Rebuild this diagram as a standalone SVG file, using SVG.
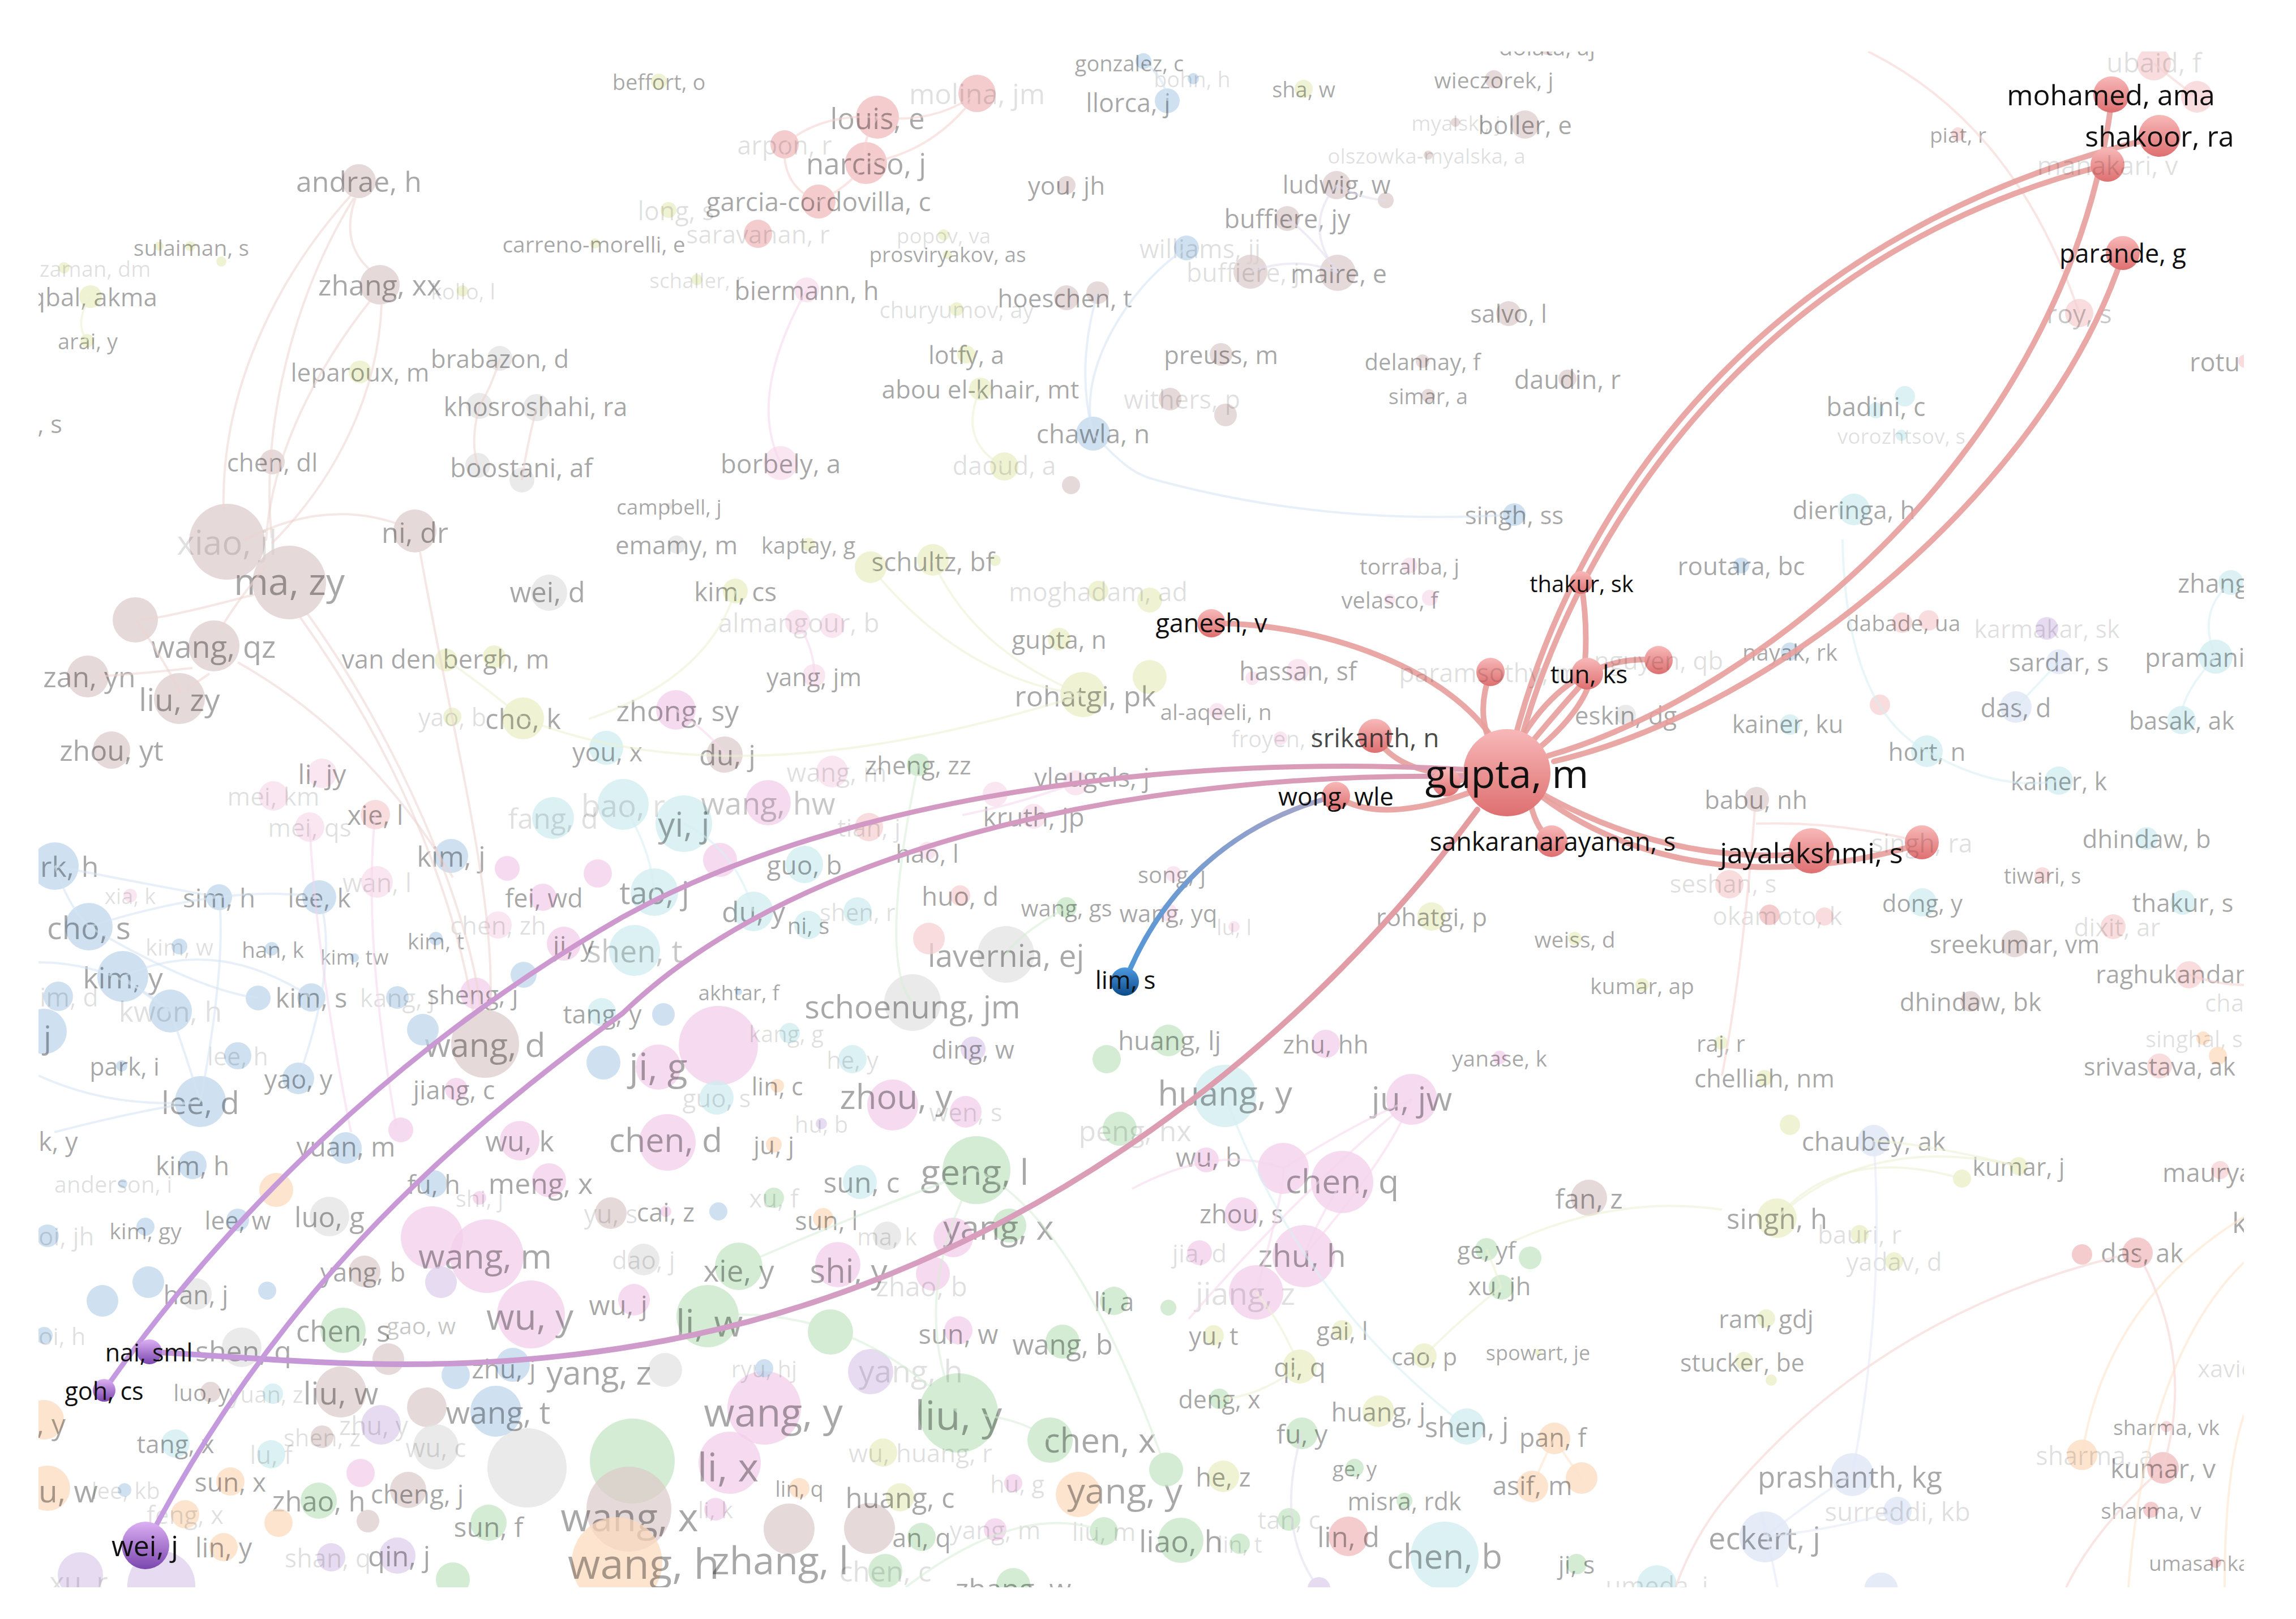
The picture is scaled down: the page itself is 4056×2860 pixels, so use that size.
<svg xmlns="http://www.w3.org/2000/svg" width="4056" height="2860" viewBox="0 0 4056 2860">
<style>
text{font-family:'Open Sans','Noto Sans','DejaVu Sans',sans-serif;text-anchor:middle;dominant-baseline:central}
.s{text-anchor:start}.e{text-anchor:end}
.l{fill:#000;fill-opacity:.34}.m{fill:#000;fill-opacity:.22}.f{fill:#000;fill-opacity:.12}
.h{fill:#111}.d{fill:#222;fill-opacity:.82}
circle{fill-opacity:.72}
.br{fill:#dccaca}.bl{fill:#bcd6eb}.pk{fill:#f3cdea}.gr{fill:#c2e4c2}.yg{fill:#e9eec2}.cy{fill:#cdebf0}
.gy{fill:#e2e2e2}.or{fill:#fcd9bd}.pu{fill:#dccdec}.lav{fill:#dbe3f4}.rd{fill:#f0b8bb}.lrd{fill:#f6cfd0}.lp{fill:#f8dcec}
.hr{fill:url(#gR);fill-opacity:1}.hp{fill:url(#gP);fill-opacity:1}.hb{fill:url(#gB);fill-opacity:1}
.fe{fill:none;stroke-width:4;stroke-opacity:.55}
.he{fill:none;stroke-linecap:round}
.er{stroke:#e79e9b;stroke-width:10;stroke-opacity:.9}
</style>
<defs>
<clipPath id="vp"><rect x="68" y="91" width="3896" height="2713"/></clipPath>
<linearGradient id="gR" x1="0" y1="0" x2="0" y2="1"><stop offset="0" stop-color="#f8b8b8"/><stop offset="1" stop-color="#de6f70"/></linearGradient>
<linearGradient id="gP" x1="0" y1="0" x2="0" y2="1"><stop offset="0" stop-color="#dcb0f4"/><stop offset="1" stop-color="#7a46ae"/></linearGradient>
<linearGradient id="gB" x1="0" y1="0" x2="0" y2="1"><stop offset="0" stop-color="#4d9ae0"/><stop offset="1" stop-color="#0b4a8a"/></linearGradient>
<linearGradient id="gNai" gradientUnits="userSpaceOnUse" x1="2610" y1="1430" x2="264" y2="2388"><stop offset="0" stop-color="#e59c9f"/><stop offset=".5" stop-color="#d69ec0"/><stop offset="1" stop-color="#c396dc"/></linearGradient>
<linearGradient id="gPu" gradientUnits="userSpaceOnUse" x1="184" y1="2456" x2="2600" y2="1360"><stop offset="0" stop-color="#c39ae0"/><stop offset=".55" stop-color="#d098c8"/><stop offset="1" stop-color="#dc9db2"/></linearGradient>
<linearGradient id="gBl" gradientUnits="userSpaceOnUse" x1="1987" y1="1734" x2="2360" y2="1406"><stop offset="0" stop-color="#4f95d6"/><stop offset="1" stop-color="#aba6c8"/></linearGradient>
</defs>
<rect width="4056" height="2860" fill="#fff"/>
<g clip-path="url(#vp)">
<g id="nodes-faded">
<g id="n-xiao-jl"><circle class="br" cx="401" cy="957" r="67"/><text class="f" x="401" y="957" font-size="60">xiao, jl</text></g>
<g id="n-ma-zy"><circle class="br" cx="511" cy="1029" r="65"/><text class="l" x="511" y="1025" font-size="66">ma, zy</text></g>
<g id="n-wang-d"><circle class="br" cx="857" cy="1844" r="60"/><text class="l" x="857" y="1844" font-size="59">wang, d</text></g>
<g id="n-pk763"><circle class="pk" cx="763" cy="2186" r="55"/></g>
<g id="n-wang-m"><circle class="pk" cx="860" cy="2219" r="65"/><text class="l" x="857" y="2218" font-size="60">wang, m</text></g>
<g id="n-wu-y"><circle class="pk" cx="938" cy="2322" r="60"/><text class="l" x="936" y="2324" font-size="64">wu, y</text></g>
<g id="n-gy931"><circle class="gy" cx="931" cy="2593" r="70"/></g>
<g id="n-pu285"><circle class="pu" cx="285" cy="2800" r="60"/></g>
<g id="n-pk1269"><circle class="pk" cx="1269" cy="1847" r="70"/></g>
<g id="n-yi-j"><circle class="cy" cx="1208" cy="1455" r="50"/><text class="l" x="1208" y="1455" font-size="60">yi, j</text></g>
<g id="n-lavernia-ej"><circle class="gy" cx="1777" cy="1686" r="50"/><text class="l" x="1777" y="1686" font-size="55">lavernia, ej</text></g>
<g id="n-schoenung-jm"><circle class="gy" cx="1612" cy="1771" r="50"/><text class="l" x="1612" y="1777" font-size="56">schoenung, jm</text></g>
<g id="n-chen-d"><circle class="pk" cx="1179" cy="2018" r="50"/><text class="l" x="1176" y="2012" font-size="59">chen, d</text></g>
<g id="n-geng-l"><circle class="gr" cx="1725" cy="2067" r="60"/><text class="l" x="1722" y="2068" font-size="63">geng, l</text></g>
<g id="n-gr1117"><circle class="gr" cx="1117" cy="2581" r="75"/></g>
<g id="n-wang-x"><circle class="br" cx="1111" cy="2666" r="75"/><text class="l" x="1112" y="2678" font-size="69">wang, x</text></g>
<g id="n-wang-h"><circle class="or" cx="1090" cy="2760" r="80"/><text class="l" x="1137" y="2760" font-size="74">wang, h</text></g>
<g id="n-li-w"><circle class="gr" cx="1250" cy="2325" r="55"/><text class="l" x="1253" y="2335" font-size="66">li, w</text></g>
<g id="n-wang-y"><circle class="pk" cx="1350" cy="2487" r="65"/><text class="l" x="1366" y="2493" font-size="70">wang, y</text></g>
<g id="n-liu-y"><circle class="gr" cx="1693" cy="2496" r="70"/><text class="l" x="1693" y="2498" font-size="72">liu, y</text></g>
<g id="n-li-x"><circle class="pk" cx="1289" cy="2584" r="55"/><text class="l" x="1286" y="2590" font-size="70">li, x</text></g>
<g id="n-zhang-l"><circle class="br" cx="1394" cy="2701" r="45"/><circle class="br" cx="1536" cy="2700" r="45"/><text class="l" x="1378" y="2754" font-size="68">zhang, l</text></g>
<g id="n-huang-y"><circle class="cy" cx="2164" cy="1936" r="55"/><text class="l" x="2164" y="1930" font-size="60">huang, y</text></g>
<g id="n-chen-q"><circle class="pk" cx="2267" cy="2064" r="45"/><circle class="pk" cx="2371" cy="2088" r="55"/><text class="l" x="2371" y="2085" font-size="59">chen, q</text></g>
<g id="n-zhu-h"><circle class="pk" cx="2303" cy="2219" r="55"/><text class="l" x="2300" y="2216" font-size="55">zhu, h</text></g>
<g id="n-chen-b"><circle class="cy" cx="2552" cy="2748" r="60"/><text class="l" x="2552" y="2748" font-size="60">chen, b</text></g>

<g id="n-andrae-h"><circle class="br" cx="634" cy="320" r="30"/><text class="l" x="634" y="320" font-size="50">andrae, h</text></g>
<g id="n-zhang-xx"><circle class="br" cx="671" cy="503" r="35"/><text class="l" x="671" y="503" font-size="50">zhang, xx</text></g>
<g id="n-kollo-l"><circle class="yg" cx="817" cy="514" r="10"/><text class="f" x="818" y="514" font-size="38">kollo, l</text></g>
<g id="n-sulaiman-s"><circle class="yg" cx="281" cy="435" r="8"/><circle class="yg" cx="336" cy="435" r="9"/><circle class="yg" cx="391" cy="462" r="9"/><text class="l" x="338" y="436" font-size="39">sulaiman, s</text></g>
<g id="n-zaman-dm"><circle class="yg" cx="113" cy="473" r="10"/><text class="f" x="168" y="474" font-size="38">zaman, dm</text></g>
<g id="n-iqbal-akma"><circle class="yg" cx="160" cy="524" r="20"/><text class="l" x="160" y="524" font-size="44">iqbal, akma</text></g>
<g id="n-arai-y"><circle class="yg" cx="154" cy="602" r="12"/><text class="l" x="155" y="602" font-size="38">arai, y</text></g>
<g id="n-s-left"><text class="l e" x="110" y="748" font-size="44">, s</text></g>
<g id="n-leparoux-m"><circle class="yg" cx="636" cy="657" r="20"/><text class="l" x="636" y="657" font-size="44">leparoux, m</text></g>
<g id="n-brabazon-d"><circle class="gy" cx="883" cy="633" r="22"/><text class="l" x="883" y="633" font-size="44">brabazon, d</text></g>
<g id="n-khosroshahi-ra"><circle class="gy" cx="847" cy="717" r="23"/><circle class="gy" cx="948" cy="720" r="24"/><text class="l" x="946" y="717" font-size="45">khosroshahi, ra</text></g>
<g id="n-chen-dl"><circle class="br" cx="481" cy="816" r="22"/><text class="l" x="481" y="816" font-size="44">chen, dl</text></g>
<g id="n-boostani-af"><circle class="gy" cx="844" cy="822" r="22"/><circle class="gy" cx="922" cy="848" r="22"/><text class="l" x="921" y="825" font-size="46">boostani, af</text></g>
<g id="n-ni-dr"><circle class="br" cx="733" cy="938" r="38"/><text class="l" x="733" y="940" font-size="49">ni, dr</text></g>
<g id="n-carreno-morelli-e"><circle class="yg" cx="1051" cy="430" r="9"/><text class="l" x="1049" y="430" font-size="39">carreno-morelli, e</text></g>
<g id="n-br239"><circle class="br" cx="239" cy="1095" r="40"/></g>
<g id="n-wang-qz"><circle class="br" cx="378" cy="1141" r="45"/><text class="l" x="377" y="1141" font-size="54">wang, qz</text></g>
<g id="n-zan-yn"><circle class="br" cx="155" cy="1195" r="37"/><text class="l" x="158" y="1195" font-size="50">zan, yn</text></g>
<g id="n-liu-zy"><circle class="br" cx="317" cy="1234" r="45"/><text class="l" x="317" y="1234" font-size="55">liu, zy</text></g>
<g id="n-zhou-yt"><circle class="br" cx="197" cy="1325" r="33"/><text class="l" x="197" y="1325" font-size="50">zhou, yt</text></g>
<g id="n-wei-d"><circle class="gy" cx="970" cy="1047" r="32"/><text class="l" x="967" y="1045" font-size="49">wei, d</text></g>
<g id="n-van-den-bergh-m"><circle class="yg" cx="788" cy="1166" r="20"/><circle class="yg" cx="873" cy="1160" r="20"/><text class="l" x="787" y="1163" font-size="45">van den bergh, m</text></g>
<g id="n-yao-b"><circle class="yg" cx="799" cy="1266" r="16"/><text class="f" x="799" y="1266" font-size="43">yao, b</text></g>
<g id="n-cho-k"><circle class="yg" cx="924" cy="1269" r="37"/><text class="l" x="924" y="1269" font-size="49">cho, k</text></g>
<g id="n-li-jy"><circle class="lp" cx="569" cy="1366" r="26"/><text class="l" x="569" y="1366" font-size="48">li, jy</text></g>
<g id="n-mei-km"><circle class="lp" cx="483" cy="1406" r="26"/><text class="f" x="483" y="1406" font-size="44">mei, km</text></g>
<g id="n-mei-qs"><circle class="lp" cx="547" cy="1461" r="26"/><text class="f" x="547" y="1461" font-size="44">mei, qs</text></g>
<g id="n-xie-l"><circle class="lrd" cx="663" cy="1439" r="26"/><text class="l" x="663" y="1439" font-size="47">xie, l</text></g>
<g id="n-fang-d"><circle class="cy" cx="977" cy="1445" r="37"/><text class="f" x="977" y="1445" font-size="50">fang, d</text></g>
<g id="n-kim-j"><circle class="bl" cx="797" cy="1512" r="30"/><text class="l" x="797" y="1512" font-size="49">kim, j</text></g>
<g id="n-rk-h"><circle class="bl" cx="97" cy="1530" r="42"/><text class="l s" x="71" y="1530" font-size="50">rk, h</text></g>
<g id="n-xia-k"><circle class="lp" cx="230" cy="1582" r="12"/><text class="f" x="230" y="1582" font-size="38">xia, k</text></g>
<g id="n-sim-h"><circle class="bl" cx="387" cy="1585" r="23"/><text class="l" x="387" y="1585" font-size="46">sim, h</text></g>
<g id="n-lee-k"><circle class="bl" cx="564" cy="1585" r="30"/><text class="l" x="564" y="1585" font-size="46">lee, k</text></g>
<g id="n-wan-l"><circle class="lp" cx="666" cy="1558" r="28"/><text class="f" x="666" y="1558" font-size="45">wan, l</text></g>
<g id="n-pk896"><circle class="pk" cx="896" cy="1534" r="22"/></g>
<g id="n-fei-wd"><circle class="pk" cx="959" cy="1585" r="24"/><text class="l" x="961" y="1585" font-size="45">fei, wd</text></g>
<g id="n-chen-zh"><circle class="lp" cx="880" cy="1634" r="24"/><text class="f" x="880" y="1634" font-size="44">chen, zh</text></g>
<g id="n-cho-s"><circle class="bl" cx="157" cy="1637" r="42"/><text class="l" x="157" y="1637" font-size="55">cho, s</text></g>
<g id="n-kim-w"><circle class="bl" cx="317" cy="1672" r="14"/><text class="f" x="317" y="1672" font-size="40">kim, w</text></g>
<g id="n-han-k"><circle class="bl" cx="480" cy="1676" r="12"/><text class="l" x="482" y="1676" font-size="39">han, k</text></g>
<g id="n-kim-tw"><circle class="bl" cx="626" cy="1692" r="8"/><text class="l" x="626" y="1690" font-size="36">kim, tw</text></g>
<g id="n-kim-t"><circle class="bl" cx="770" cy="1658" r="12"/><text class="l" x="770" y="1661" font-size="39">kim, t</text></g>
<g id="n-kim-y"><circle class="bl" cx="217" cy="1725" r="45"/><text class="l" x="217" y="1725" font-size="52">kim, y</text></g>
<g id="n-im-d"><circle class="bl" cx="103" cy="1760" r="26"/><text class="f s" x="70" y="1760" font-size="45">im, d</text></g>
<g id="n-kwon-h"><circle class="bl" cx="301" cy="1786" r="38"/><text class="f" x="301" y="1786" font-size="50">kwon, h</text></g>
<g id="n-bl456"><circle class="bl" cx="456" cy="1763" r="22"/></g>
<g id="n-kim-s"><circle class="bl" cx="550" cy="1762" r="25"/><text class="l" x="550" y="1762" font-size="47">kim, s</text></g>
<g id="n-kang-j"><circle class="bl" cx="702" cy="1762" r="20"/><text class="f" x="702" y="1762" font-size="44">kang, j</text></g>
<g id="n-sheng-j"><circle class="pk" cx="841" cy="1755" r="28"/><text class="l" x="835" y="1756" font-size="45">sheng, j</text></g>
<g id="n-bl925"><circle class="bl" cx="925" cy="1722" r="23"/></g>
<g id="n-j-left"><circle class="bl" cx="78" cy="1822" r="40"/><text class="l" x="84" y="1830" font-size="55">j</text></g>
<g id="n-bl747"><circle class="bl" cx="747" cy="1819" r="28"/></g>
<g id="n-lee-h"><circle class="bl" cx="420" cy="1865" r="24"/><text class="f" x="420" y="1865" font-size="43">lee, h</text></g>
<g id="n-park-i"><circle class="bl" cx="215" cy="1883" r="10"/><text class="l" x="220" y="1883" font-size="43">park, i</text></g>
<g id="n-yao-y"><circle class="bl" cx="527" cy="1905" r="28"/><text class="l" x="527" y="1905" font-size="45">yao, y</text></g>
<g id="n-lee-d"><circle class="bl" cx="354" cy="1946" r="45"/><text class="l" x="354" y="1946" font-size="55">lee, d</text></g>
<g id="n-jiang-c"><circle class="pk" cx="806" cy="1924" r="20"/><text class="l" x="802" y="1924" font-size="45">jiang, c</text></g>
<g id="n-pk708"><circle class="pk" cx="708" cy="1996" r="22"/></g>
<g id="n-k-y"><text class="l s" x="68" y="2015" font-size="45">k, y</text></g>
<g id="n-yuan-m"><circle class="bl" cx="611" cy="2028" r="28"/><text class="l" x="611" y="2025" font-size="47">yuan, m</text></g>
<g id="n-wu-k"><circle class="pk" cx="918" cy="2015" r="35"/><text class="l" x="918" y="2015" font-size="50">wu, k</text></g>
<g id="n-kim-h"><circle class="bl" cx="340" cy="2058" r="25"/><text class="l" x="340" y="2058" font-size="46">kim, h</text></g>
<g id="n-anderson-i"><circle class="bl" cx="217" cy="2091" r="8"/><text class="f" x="200" y="2091" font-size="40">anderson, i</text></g>
<g id="n-or488"><circle class="or" cx="488" cy="2102" r="30"/></g>
<g id="n-fu-h"><circle class="bl" cx="766" cy="2091" r="24"/><text class="l" x="766" y="2091" font-size="45">fu, h</text></g>
<g id="n-meng-x"><circle class="pk" cx="970" cy="2085" r="30"/><text class="l" x="955" y="2090" font-size="50">meng, x</text></g>
<g id="n-shi-j"><circle class="pk" cx="847" cy="2116" r="12"/><text class="f" x="847" y="2116" font-size="40">shi, j</text></g>
<g id="n-oi-jh"><circle class="bl" cx="84" cy="2183" r="20"/><text class="f s" x="68" y="2183" font-size="44">oi, jh</text></g>
<g id="n-kim-gy"><circle class="bl" cx="257" cy="2167" r="16"/><text class="l" x="257" y="2173" font-size="39">kim, gy</text></g>
<g id="n-lee-w"><circle class="bl" cx="420" cy="2155" r="20"/><text class="l" x="420" y="2155" font-size="44">lee, w</text></g>
<g id="n-luo-g"><circle class="gy" cx="582" cy="2149" r="35"/><text class="l" x="582" y="2149" font-size="49">luo, g</text></g>
<g id="n-yang-b"><circle class="br" cx="644" cy="2246" r="28"/><text class="l" x="641" y="2246" font-size="45">yang, b</text></g>
<g id="n-han-j"><circle class="gy" cx="346" cy="2286" r="28"/><text class="l" x="346" y="2286" font-size="45">han, j</text></g>
<g id="n-bl262"><circle class="bl" cx="262" cy="2265" r="28"/></g>
<g id="n-bl181"><circle class="bl" cx="181" cy="2298" r="28"/></g>
<g id="n-bl472"><circle class="bl" cx="472" cy="2280" r="16"/></g>
<g id="n-pu779"><circle class="pu" cx="779" cy="2265" r="28"/></g>
<g id="n-chen-s"><circle class="gr" cx="606" cy="2350" r="40"/><text class="l" x="606" y="2350" font-size="51">chen, s</text></g>
<g id="n-gao-w"><circle class="br" cx="686" cy="2401" r="28"/><text class="m" x="744" y="2341" font-size="41">gao, w</text></g>
<g id="n-oi-h"><circle class="bl" cx="78" cy="2359" r="15"/><text class="f s" x="68" y="2359" font-size="42">oi, h</text></g>
<g id="n-shen-q"><circle class="gy" cx="427" cy="2380" r="35"/><text class="l" x="430" y="2386" font-size="50">shen, q</text></g>
<g id="n-luo-y"><circle class="br" cx="372" cy="2459" r="18"/><text class="l" x="356" y="2459" font-size="40">luo, y</text></g>
<g id="n-yuan-z"><circle class="cy" cx="482" cy="2462" r="18"/><text class="f" x="470" y="2462" font-size="40">yuan, z</text></g>
<g id="n-liu-w"><circle class="br" cx="602" cy="2459" r="45"/><text class="l" x="602" y="2459" font-size="55">liu, w</text></g>
<g id="n-zhu-j"><circle class="bl" cx="906" cy="2411" r="30"/><text class="l" x="890" y="2417" font-size="46">zhu, j</text></g>
<g id="n-bl805"><circle class="bl" cx="805" cy="2429" r="25"/></g>
<g id="n-br754"><circle class="br" cx="754" cy="2486" r="35"/></g>
<g id="n-yang-z"><circle class="gy" cx="1175" cy="2420" r="30"/><text class="l" x="1058" y="2423" font-size="58">yang, z</text></g>
<g id="n-wang-t"><circle class="bl" cx="876" cy="2493" r="45"/><text class="l" x="880" y="2493" font-size="55">wang, t</text></g>
<g id="n-y-left"><circle class="or" cx="78" cy="2508" r="35"/><text class="l e" x="116" y="2515" font-size="50">, y</text></g>
<g id="n-tang-x"><circle class="cy" cx="310" cy="2550" r="25"/><text class="l" x="310" y="2550" font-size="44">tang, x</text></g>
<g id="n-lu-f"><circle class="cy" cx="479" cy="2569" r="25"/><text class="f" x="479" y="2569" font-size="44">lu, f</text></g>
<g id="n-shen-z"><circle class="br" cx="569" cy="2538" r="20"/><text class="f" x="569" y="2538" font-size="42">shen, z</text></g>
<g id="n-zhu-y"><circle class="pu" cx="673" cy="2517" r="35"/><text class="f" x="660" y="2517" font-size="45">zhu, y</text></g>
<g id="n-wu-c"><circle class="gy" cx="770" cy="2556" r="40"/><text class="f" x="770" y="2556" font-size="45">wu, c</text></g>
<g id="n-u-w"><circle class="or" cx="84" cy="2629" r="40"/><text class="l s" x="68" y="2632" font-size="55">u, w</text></g>
<g id="n-lee-kb"><circle class="bl" cx="220" cy="2632" r="12"/><text class="f" x="222" y="2632" font-size="40">lee, kb</text></g>
<g id="n-sun-x"><circle class="or" cx="407" cy="2617" r="25"/><text class="l" x="407" y="2617" font-size="46">sun, x</text></g>
<g id="n-feng-x"><circle class="or" cx="327" cy="2675" r="25"/><text class="f" x="327" y="2675" font-size="44">feng, x</text></g>
<g id="n-zhao-h"><circle class="gr" cx="563" cy="2651" r="32"/><text class="l" x="563" y="2651" font-size="49">zhao, h</text></g>
<g id="n-cheng-j"><circle class="br" cx="721" cy="2632" r="32"/><text class="l" x="737" y="2638" font-size="46">cheng, j</text></g>
<g id="n-br650"><circle class="br" cx="650" cy="2687" r="20"/></g>
<g id="n-pk637"><circle class="pk" cx="637" cy="2602" r="25"/></g>
<g id="n-or492"><circle class="or" cx="492" cy="2690" r="25"/></g>
<g id="n-sun-f"><circle class="gr" cx="863" cy="2690" r="32"/><text class="l" x="863" y="2696" font-size="48">sun, f</text></g>
<g id="n-lin-y"><circle class="or" cx="395" cy="2733" r="25"/><text class="l" x="395" y="2733" font-size="47">lin, y</text></g>
<g id="n-shan-q"><circle class="pu" cx="585" cy="2751" r="25"/><text class="f" x="579" y="2751" font-size="45">shan, q</text></g>
<g id="n-qin-j"><circle class="pu" cx="702" cy="2748" r="32"/><text class="l" x="705" y="2748" font-size="49">qin, j</text></g>
<g id="n-xu-r"><circle class="pu" cx="142" cy="2782" r="40"/><text class="f" x="139" y="2794" font-size="50">xu, r</text></g>
<g id="n-gr800"><circle class="gr" cx="800" cy="2790" r="30"/></g>

<g id="n-emamy-m"><circle class="gy" cx="1195" cy="962" r="16"/><text class="l" x="1195" y="962" font-size="44">emamy, m</text></g>
<g id="n-kaptay-g"><circle class="yg" cx="1428" cy="962" r="12"/><text class="l" x="1428" y="962" font-size="40">kaptay, g</text></g>
<g id="n-schultz-bf"><circle class="yg" cx="1538" cy="1002" r="28"/><circle class="yg" cx="1648" cy="989" r="28"/><circle class="yg" cx="1758" cy="990" r="10"/><text class="l" x="1648" y="991" font-size="46">schultz, bf</text></g>
<g id="n-kim-cs"><circle class="yg" cx="1299" cy="1044" r="22"/><text class="l" x="1299" y="1044" font-size="46">kim, cs</text></g>
<g id="n-almangour-b"><circle class="lp" cx="1409" cy="1099" r="22"/><circle class="lp" cx="1470" cy="1105" r="22"/><text class="f" x="1411" y="1099" font-size="46">almangour, b</text></g>
<g id="n-moghadam-ad"><circle class="yg" cx="1940" cy="1044" r="18"/><circle class="yg" cx="2031" cy="1060" r="22"/><text class="f" x="1940" y="1044" font-size="45">moghadam, ad</text></g>
<g id="n-gupta-n"><circle class="yg" cx="1871" cy="1129" r="20"/><text class="l" x="1871" y="1129" font-size="44">gupta, n</text></g>
<g id="n-yang-jm"><circle class="lp" cx="1438" cy="1193" r="20"/><text class="l" x="1438" y="1195" font-size="43">yang, jm</text></g>
<g id="n-rohatgi-pk"><circle class="yg" cx="1913" cy="1227" r="40"/><circle class="yg" cx="2031" cy="1196" r="30"/><text class="l" x="1917" y="1229" font-size="50">rohatgi, pk</text></g>
<g id="n-zhong-sy"><circle class="pk" cx="1194" cy="1254" r="35"/><text class="l" x="1197" y="1255" font-size="50">zhong, sy</text></g>
<g id="n-you-x"><circle class="cy" cx="1071" cy="1321" r="30"/><text class="l" x="1073" y="1327" font-size="45">you, x</text></g>
<g id="n-du-j"><circle class="br" cx="1280" cy="1333" r="32"/><text class="l" x="1285" y="1333" font-size="50">du, j</text></g>
<g id="n-wang-hw"><circle class="pk" cx="1357" cy="1418" r="40"/><text class="m" x="1357" y="1418" font-size="54">wang, hw</text></g>
<g id="n-wang-m2"><circle class="lp" cx="1470" cy="1363" r="28"/><text class="f" x="1478" y="1363" font-size="45">wang, m</text></g>
<g id="n-zheng-zz"><circle class="gr" cx="1622" cy="1351" r="20"/><text class="l" x="1622" y="1351" font-size="44">zheng, zz</text></g>
<g id="n-bao-r"><circle class="cy" cx="1101" cy="1421" r="45"/><text class="f" x="1101" y="1421" font-size="55">bao, r</text></g>
<g id="n-vleugels-j"><circle class="lp" cx="1900" cy="1383" r="22"/><circle class="lp" cx="1758" cy="1403" r="22"/><text class="l" x="1929" y="1372" font-size="45">vleugels, j</text></g>
<g id="n-kruth-jp"><circle class="lp" cx="1826" cy="1442" r="22"/><text class="l" x="1826" y="1442" font-size="46">kruth, jp</text></g>
<g id="n-tian-j"><circle class="lrd" cx="1535" cy="1461" r="25"/><text class="f" x="1535" y="1461" font-size="44">tian, j</text></g>
<g id="n-hao-l"><circle class="lp" cx="1638" cy="1503" r="16"/><text class="l" x="1638" y="1507" font-size="44">hao, l</text></g>
<g id="n-guo-b"><circle class="cy" cx="1421" cy="1527" r="33"/><text class="l" x="1421" y="1527" font-size="46">guo, b</text></g>
<g id="n-pk1272"><circle class="pk" cx="1272" cy="1519" r="30"/></g>
<g id="n-pk1056"><circle class="pk" cx="1056" cy="1543" r="25"/></g>
<g id="n-tao-j"><circle class="cy" cx="1156" cy="1576" r="42"/><text class="l" x="1156" y="1576" font-size="54">tao, j</text></g>
<g id="n-huo-d"><circle class="lrd" cx="1696" cy="1582" r="18"/><text class="l" x="1696" y="1582" font-size="46">huo, d</text></g>
<g id="n-wang-gs"><circle class="gr" cx="1884" cy="1603" r="18"/><text class="l" x="1884" y="1603" font-size="40">wang, gs</text></g>
<g id="n-du-y"><circle class="cy" cx="1331" cy="1610" r="35"/><text class="l" x="1331" y="1610" font-size="50">du, y</text></g>
<g id="n-ni-s"><circle class="cy" cx="1428" cy="1634" r="25"/><text class="l" x="1428" y="1634" font-size="40">ni, s</text></g>
<g id="n-shen-r"><circle class="cy" cx="1515" cy="1610" r="25"/><text class="f" x="1515" y="1610" font-size="42">shen, r</text></g>
<g id="n-shen-t"><circle class="cy" cx="1121" cy="1679" r="45"/><text class="m" x="1121" y="1679" font-size="54">shen, t</text></g>
<g id="n-lrd1641"><circle class="lrd" cx="1641" cy="1658" r="28"/></g>
<g id="n-akhtar-f"><circle class="bl" cx="1305" cy="1752" r="6"/><text class="l" x="1305" y="1752" font-size="37">akhtar, f</text></g>
<g id="n-bl1172"><circle class="bl" cx="1172" cy="1792" r="20"/></g>
<g id="n-kang-g"><circle class="cy" cx="1395" cy="1825" r="18"/><text class="f" x="1389" y="1825" font-size="40">kang, g</text></g>
<g id="n-ding-w"><circle class="pu" cx="1719" cy="1853" r="22"/><text class="l" x="1719" y="1853" font-size="44">ding, w</text></g>
<g id="n-he-y"><circle class="cy" cx="1506" cy="1871" r="25"/><text class="f" x="1506" y="1871" font-size="42">he, y</text></g>
<g id="n-gr1955"><circle class="gr" cx="1955" cy="1871" r="25"/></g>
<g id="n-huang-lj"><circle class="gr" cx="2064" cy="1838" r="28"/><text class="l" x="2066" y="1837" font-size="46">huang, lj</text></g>
<g id="n-bl1066"><circle class="bl" cx="1066" cy="1877" r="30"/></g>
<g id="n-ji-g"><circle class="pk" cx="1163" cy="1885" r="40"/><text class="l" x="1163" y="1882" font-size="66">ji, g</text></g>
<g id="n-tang-y"><circle class="cy" cx="1063" cy="1788" r="25"/><text class="l" x="1064" y="1790" font-size="45">tang, y</text></g>
<g id="n-ji-y"><circle class="pk" cx="996" cy="1667" r="30"/><text class="l" x="1013" y="1669" font-size="48">ji, y</text></g>
<g id="n-lin-c"><circle class="or" cx="1373" cy="1918" r="12"/><text class="l" x="1373" y="1918" font-size="43">lin, c</text></g>
<g id="n-guo-s"><circle class="cy" cx="1266" cy="1939" r="30"/><text class="f" x="1266" y="1939" font-size="44">guo, s</text></g>
<g id="n-zhou-y"><circle class="pk" cx="1577" cy="1952" r="45"/><text class="l" x="1583" y="1936" font-size="60">zhou, y</text></g>
<g id="n-wen-s"><circle class="pk" cx="1706" cy="1964" r="28"/><text class="f" x="1706" y="1964" font-size="44">wen, s</text></g>
<g id="n-hu-b"><circle class="pu" cx="1451" cy="1985" r="10"/><text class="f" x="1451" y="1985" font-size="40">hu, b</text></g>
<g id="n-ju-j"><circle class="or" cx="1367" cy="2022" r="14"/><text class="l" x="1367" y="2022" font-size="44">ju, j</text></g>
<g id="n-peng-hx"><circle class="gr" cx="1978" cy="1994" r="30"/><text class="f" x="2005" y="1997" font-size="50">peng, hx</text></g>
<g id="n-sun-c"><circle class="cy" cx="1519" cy="2088" r="30"/><text class="l" x="1522" y="2088" font-size="50">sun, c</text></g>
<g id="n-xu-f"><circle class="gr" cx="1367" cy="2116" r="18"/><text class="f" x="1367" y="2116" font-size="44">xu, f</text></g>
<g id="n-yu-s"><circle class="br" cx="1079" cy="2143" r="28"/><text class="f" x="1079" y="2143" font-size="45">yu, s</text></g>
<g id="n-cai-z"><circle class="pk" cx="1176" cy="2140" r="10"/><text class="l" x="1176" y="2140" font-size="45">cai, z</text></g>
<g id="n-bl1269"><circle class="bl" cx="1269" cy="2140" r="16"/></g>
<g id="n-sun-l"><circle class="or" cx="1454" cy="2152" r="18"/><text class="l" x="1460" y="2155" font-size="45">sun, l</text></g>
<g id="n-yang-x"><circle class="pk" cx="1684" cy="2186" r="35"/><circle class="gr" cx="1783" cy="2165" r="30"/><text class="l" x="1764" y="2167" font-size="60">yang, x</text></g>
<g id="n-ma-k"><circle class="gy" cx="1567" cy="2183" r="25"/><text class="f" x="1567" y="2183" font-size="42">ma, k</text></g>
<g id="n-xie-y"><circle class="gr" cx="1305" cy="2237" r="42"/><text class="l" x="1305" y="2243" font-size="53">xie, y</text></g>
<g id="n-shi-y"><circle class="pk" cx="1480" cy="2234" r="40"/><text class="l" x="1499" y="2243" font-size="58">shi, y</text></g>
<g id="n-zhao-b"><circle class="pk" cx="1648" cy="2250" r="30"/><text class="f" x="1628" y="2271" font-size="48">zhao, b</text></g>
<g id="n-dao-j"><circle class="gy" cx="1137" cy="2225" r="28"/><text class="f" x="1137" y="2225" font-size="44">dao, j</text></g>
<g id="n-wu-j"><circle class="pk" cx="1120" cy="2296" r="28"/><text class="l" x="1092" y="2304" font-size="48">wu, j</text></g>
<g id="n-li-a"><circle class="gr" cx="1968" cy="2298" r="25"/><text class="l" x="1968" y="2298" font-size="45">li, a</text></g>
<g id="n-sun-w"><circle class="pk" cx="1693" cy="2350" r="25"/><text class="l" x="1693" y="2356" font-size="47">sun, w</text></g>
<g id="n-wang-b"><circle class="gr" cx="1877" cy="2370" r="30"/><text class="l" x="1877" y="2374" font-size="49">wang, b</text></g>
<g id="n-gr1467"><circle class="gr" cx="1467" cy="2353" r="40"/></g>
<g id="n-yang-h"><circle class="pu" cx="1538" cy="2423" r="40"/><text class="f" x="1609" y="2420" font-size="55">yang, h</text></g>
<g id="n-ryu-hj"><circle class="bl" cx="1350" cy="2417" r="16"/><text class="f" x="1350" y="2417" font-size="40">ryu, hj</text></g>
<g id="n-chen-x"><circle class="gr" cx="1855" cy="2544" r="40"/><text class="l" x="1943" y="2543" font-size="60">chen, x</text></g>
<g id="n-wu-huang-r"><circle class="yg" cx="1560" cy="2566" r="25"/><text class="f" x="1626" y="2566" font-size="44">wu, huang, r</text></g>
<g id="n-lin-q"><circle class="or" cx="1412" cy="2629" r="18"/><text class="l" x="1412" y="2629" font-size="38">lin, q</text></g>
<g id="n-huang-c"><circle class="yg" cx="1590" cy="2645" r="25"/><text class="l" x="1590" y="2645" font-size="49">huang, c</text></g>
<g id="n-hu-g"><circle class="pk" cx="1790" cy="2620" r="16"/><text class="f" x="1797" y="2620" font-size="42">hu, g</text></g>
<g id="n-yang-y"><circle class="or" cx="1905" cy="2640" r="40"/><text class="l" x="1987" y="2631" font-size="63">yang, y</text></g>
<g id="n-li-k"><circle class="pk" cx="1264" cy="2666" r="20"/><text class="f" x="1264" y="2666" font-size="40">li, k</text></g>
<g id="n-an-q"><circle class="gr" cx="1628" cy="2715" r="25"/><text class="l" x="1628" y="2715" font-size="45">an, q</text></g>
<g id="n-yang-m"><circle class="pk" cx="1758" cy="2702" r="20"/><text class="f" x="1758" y="2702" font-size="44">yang, m</text></g>
<g id="n-chen-c"><circle class="gr" cx="1564" cy="2775" r="30"/><text class="f" x="1564" y="2775" font-size="50">chen, c</text></g>
<g id="n-zhang-w"><circle class="gr" cx="1790" cy="2800" r="30"/><text class="l" x="1790" y="2806" font-size="50">zhang, w</text></g>
<g id="n-liu-m"><circle class="gr" cx="1950" cy="2705" r="25"/><text class="f" x="1950" y="2705" font-size="44">liu, m</text></g>

<g id="n-ju-jw"><circle class="pk" cx="2494" cy="1942" r="45"/><text class="l" x="2494" y="1939" font-size="59">ju, jw</text></g>
<g id="n-wu-b"><circle class="pk" cx="2131" cy="2049" r="22"/><text class="l" x="2135" y="2043" font-size="46">wu, b</text></g>
<g id="n-zhou-s"><circle class="pk" cx="2193" cy="2145" r="30"/><text class="l" x="2193" y="2143" font-size="45">zhou, s</text></g>
<g id="n-jia-d"><circle class="pk" cx="2119" cy="2213" r="22"/><text class="f" x="2119" y="2213" font-size="44">jia, d</text></g>
<g id="n-jiang-z"><circle class="pk" cx="2219" cy="2283" r="48"/><text class="f" x="2200" y="2283" font-size="55">jiang, z</text></g>
<g id="n-fan-z"><circle class="br" cx="2807" cy="2116" r="32"/><text class="l" x="2807" y="2116" font-size="48">fan, z</text></g>
<g id="n-ge-yf"><circle class="gr" cx="2626" cy="2207" r="20"/><circle class="gr" cx="2703" cy="2222" r="20"/><text class="l" x="2626" y="2207" font-size="42">ge, yf</text></g>
<g id="n-xu-jh"><circle class="gr" cx="2652" cy="2274" r="22"/><text class="l" x="2649" y="2271" font-size="44">xu, jh</text></g>
<g id="n-gr2064"><circle class="gr" cx="2064" cy="2310" r="14"/></g>
<g id="n-yu-t"><circle class="yg" cx="2144" cy="2359" r="18"/><text class="l" x="2144" y="2359" font-size="44">yu, t</text></g>
<g id="n-gai-l"><circle class="yg" cx="2371" cy="2350" r="18"/><text class="l" x="2371" y="2350" font-size="43">gai, l</text></g>
<g id="n-qi-q"><circle class="yg" cx="2296" cy="2414" r="30"/><text class="l" x="2296" y="2414" font-size="46">qi, q</text></g>
<g id="n-cao-p"><circle class="yg" cx="2516" cy="2395" r="22"/><text class="l" x="2516" y="2395" font-size="42">cao, p</text></g>
<g id="n-spowart-je"><circle class="yg" cx="2717" cy="2389" r="6"/><text class="l" x="2717" y="2389" font-size="36">spowart, je</text></g>
<g id="n-deng-x"><circle class="gr" cx="2154" cy="2471" r="18"/><text class="l" x="2154" y="2471" font-size="43">deng, x</text></g>
<g id="n-huang-j"><circle class="yg" cx="2435" cy="2493" r="28"/><text class="l" x="2435" y="2493" font-size="45">huang, j</text></g>
<g id="n-shen-j"><circle class="cy" cx="2591" cy="2520" r="32"/><text class="l" x="2591" y="2520" font-size="49">shen, j</text></g>
<g id="n-fu-y"><circle class="gr" cx="2300" cy="2532" r="28"/><text class="l" x="2300" y="2532" font-size="46">fu, y</text></g>
<g id="n-pan-f"><circle class="or" cx="2746" cy="2541" r="28"/><text class="l" x="2743" y="2538" font-size="45">pan, f</text></g>
<g id="n-asif-m"><circle class="or" cx="2707" cy="2626" r="28"/><circle class="or" cx="2794" cy="2611" r="28"/><text class="l" x="2707" y="2623" font-size="46">asif, m</text></g>
<g id="n-ge-y"><circle class="gr" cx="2393" cy="2593" r="16"/><text class="l" x="2393" y="2593" font-size="37">ge, y</text></g>
<g id="n-gr2060"><circle class="gr" cx="2060" cy="2596" r="30"/></g>
<g id="n-he-z"><circle class="yg" cx="2161" cy="2608" r="28"/><text class="l" x="2161" y="2608" font-size="45">he, z</text></g>
<g id="n-misra-rdk"><circle class="gr" cx="2481" cy="2651" r="14"/><text class="l" x="2481" y="2651" font-size="43">misra, rdk</text></g>
<g id="n-tan-c"><circle class="gr" cx="2277" cy="2684" r="20"/><text class="f" x="2277" y="2684" font-size="44">tan, c</text></g>
<g id="n-lin-d"><circle class="rd" cx="2382" cy="2714" r="35"/><text class="l" x="2382" y="2714" font-size="49">lin, d</text></g>
<g id="n-liao-h"><circle class="gr" cx="2086" cy="2721" r="40"/><text class="l" x="2086" y="2721" font-size="53">liao, h</text></g>
<g id="n-lin-t"><circle class="gr" cx="2190" cy="2727" r="18"/><text class="f" x="2190" y="2727" font-size="40">lin, t</text></g>
<g id="n-ji-s"><circle class="gr" cx="2785" cy="2763" r="18"/><text class="l" x="2785" y="2763" font-size="43">ji, s</text></g>
<g id="n-umeda-j"><circle class="cy" cx="2927" cy="2800" r="35"/><text class="f" x="2927" y="2800" font-size="45">umeda, j</text></g>
<g id="n-pu2330"><circle class="pu" cx="2330" cy="2806" r="20"/></g>

<g id="n-torralba-j"><circle class="lp" cx="2490" cy="999" r="14"/><text class="l" x="2490" y="999" font-size="39">torralba, j</text></g>
<g id="n-velasco-f"><circle class="lp" cx="2455" cy="1059" r="10"/><circle class="lp" cx="2526" cy="1056" r="14"/><text class="l" x="2455" y="1059" font-size="40">velasco, f</text></g>
<g id="n-hassan-sf"><circle class="lp" cx="2293" cy="1184" r="20"/><circle class="lp" cx="2212" cy="1198" r="12"/><text class="l" x="2293" y="1184" font-size="45">hassan, sf</text></g>
<g id="n-al-aqeeli-n"><circle class="lp" cx="2150" cy="1256" r="14"/><text class="l" x="2148" y="1256" font-size="39">al-aqeeli, n</text></g>
<g id="n-eskin-dg"><circle class="gy" cx="2872" cy="1263" r="18"/><text class="l" x="2872" y="1263" font-size="44">eskin, dg</text></g>
<g id="n-froyen-l"><circle class="lp" cx="2262" cy="1304" r="12"/><text class="f" x="2251" y="1304" font-size="40">froyen, l</text></g>
<g id="n-song-j"><circle class="lp" cx="2073" cy="1544" r="14"/><text class="l" x="2070" y="1544" font-size="40">song, j</text></g>
<g id="n-wang-yq"><circle class="lp" cx="2064" cy="1612" r="16"/><text class="l" x="2064" y="1612" font-size="42">wang, yq</text></g>
<g id="n-lu-l"><circle class="lp" cx="2180" cy="1637" r="10"/><text class="f" x="2180" y="1637" font-size="38">lu, l</text></g>
<g id="n-rohatgi-p"><circle class="yg" cx="2529" cy="1619" r="25"/><text class="l" x="2529" y="1619" font-size="44">rohatgi, p</text></g>
<g id="n-weiss-d"><circle class="yg" cx="2782" cy="1658" r="12"/><text class="l" x="2782" y="1658" font-size="39">weiss, d</text></g>
<g id="n-kumar-ap"><circle class="yg" cx="2901" cy="1740" r="12"/><text class="l" x="2901" y="1740" font-size="39">kumar, ap</text></g>
<g id="n-zhu-hh"><circle class="pk" cx="2342" cy="1844" r="25"/><text class="l" x="2342" y="1844" font-size="44">zhu, hh</text></g>
<g id="n-yanase-k"><circle class="pk" cx="2649" cy="1868" r="12"/><text class="l" x="2649" y="1868" font-size="39">yanase, k</text></g>

<g id="n-gonzalez-c"><circle class="bl" cx="2020" cy="108" r="14"/><text class="l" x="1995" y="111" font-size="38">gonzalez, c</text></g>
<g id="n-bohn-h"><circle class="bl" cx="2108" cy="139" r="10"/><text class="f" x="2106" y="139" font-size="38">bohn, h</text></g>
<g id="n-llorca-j"><circle class="bl" cx="2062" cy="178" r="22"/><text class="l" x="1993" y="180" font-size="45">llorca, j</text></g>
<g id="n-sha-w"><circle class="yg" cx="2303" cy="157" r="16"/><text class="l" x="2303" y="157" font-size="38">sha, w</text></g>
<g id="n-dolata-aj"><circle class="br" cx="2733" cy="85" r="12"/><text class="l" x="2733" y="82" font-size="40">dolata, aj</text></g>
<g id="n-wieczorek-j"><circle class="br" cx="2639" cy="140" r="16"/><text class="l" x="2639" y="140" font-size="39">wieczorek, j</text></g>
<g id="n-myalski-j"><circle class="br" cx="2571" cy="216" r="8"/><text class="f" x="2572" y="216" font-size="37">myalski, j</text></g>
<g id="n-boller-e"><circle class="br" cx="2694" cy="220" r="25"/><text class="l" x="2694" y="220" font-size="44">boller, e</text></g>
<g id="n-olszowka-myalska-a"><circle class="br" cx="2523" cy="274" r="8"/><text class="f" x="2520" y="274" font-size="37">olszowka-myalska, a</text></g>
<g id="n-ludwig-w"><circle class="br" cx="2361" cy="327" r="25"/><circle class="br" cx="2448" cy="354" r="14"/><text class="l" x="2361" y="325" font-size="44">ludwig, w</text></g>
<g id="n-buffiere-jy"><circle class="br" cx="2274" cy="386" r="22"/><text class="l" x="2274" y="385" font-size="45">buffiere, jy</text></g>
<g id="n-williams-jj"><circle class="bl" cx="2096" cy="438" r="22"/><text class="f" x="2120" y="438" font-size="45">williams, jj</text></g>
<g id="n-buffiere-j"><circle class="br" cx="2209" cy="480" r="30"/><text class="f" x="2196" y="480" font-size="45">buffiere, j</text></g>
<g id="n-maire-e"><circle class="br" cx="2363" cy="482" r="32"/><text class="l" x="2365" y="482" font-size="45">maire, e</text></g>
<g id="n-salvo-l"><circle class="br" cx="2665" cy="554" r="22"/><text class="l" x="2665" y="553" font-size="43">salvo, l</text></g>
<g id="n-preuss-m"><circle class="br" cx="2157" cy="626" r="20"/><text class="l" x="2157" y="626" font-size="44">preuss, m</text></g>
<g id="n-delannay-f"><circle class="br" cx="2513" cy="638" r="12"/><text class="l" x="2513" y="638" font-size="40">delannay, f</text></g>
<g id="n-simar-a"><circle class="br" cx="2523" cy="699" r="12"/><text class="l" x="2523" y="699" font-size="38">simar, a</text></g>
<g id="n-daudin-r"><circle class="br" cx="2769" cy="669" r="16"/><text class="l" x="2769" y="669" font-size="45">daudin, r</text></g>
<g id="n-withers-p"><circle class="br" cx="2067" cy="705" r="20"/><circle class="br" cx="2165" cy="733" r="20"/><text class="f" x="2088" y="704" font-size="45">withers, p</text></g>
<g id="n-singh-ss"><circle class="bl" cx="2675" cy="909" r="20"/><text class="l" x="2675" y="909" font-size="44">singh, ss</text></g>

<g id="n-beffort-o"><circle class="yg" cx="1164" cy="144" r="14"/><text class="l" x="1164" y="144" font-size="38">beffort, o</text></g>
<g id="n-louis-e"><circle class="rd" cx="1550" cy="207" r="38"/><text class="l" x="1550" y="208" font-size="51">louis, e</text></g>
<g id="n-molina-jm"><circle class="rd" cx="1726" cy="165" r="33"/><text class="f" x="1726" y="165" font-size="49">molina, jm</text></g>
<g id="n-arpon-r"><circle class="rd" cx="1386" cy="255" r="25"/><text class="f" x="1386" y="255" font-size="45">arpon, r</text></g>
<g id="n-narciso-j"><circle class="rd" cx="1530" cy="288" r="37"/><text class="l" x="1530" y="288" font-size="51">narciso, j</text></g>
<g id="n-garcia-cordovilla-c"><circle class="rd" cx="1446" cy="356" r="30"/><text class="l" x="1446" y="355" font-size="46">garcia-cordovilla, c</text></g>
<g id="n-long-s"><circle class="yg" cx="1181" cy="371" r="14"/><text class="f" x="1194" y="371" font-size="45">long, s</text></g>
<g id="n-saravanan-r"><circle class="rd" cx="1339" cy="413" r="25"/><text class="f" x="1339" y="413" font-size="44">saravanan, r</text></g>
<g id="n-popov-va"><circle class="yg" cx="1667" cy="415" r="10"/><text class="f" x="1667" y="415" font-size="37">popov, va</text></g>
<g id="n-prosviryakov-as"><circle class="yg" cx="1674" cy="450" r="8"/><text class="l" x="1674" y="448" font-size="37">prosviryakov, as</text></g>
<g id="n-schaller-r"><circle class="yg" cx="1231" cy="494" r="10"/><text class="f" x="1231" y="494" font-size="37">schaller, r</text></g>
<g id="n-biermann-h"><circle class="lp" cx="1425" cy="512" r="22"/><text class="l" x="1425" y="512" font-size="45">biermann, h</text></g>
<g id="n-churyumov-ay"><circle class="yg" cx="1690" cy="546" r="12"/><text class="f" x="1690" y="546" font-size="40">churyumov, ay</text></g>
<g id="n-you-jh"><circle class="br" cx="1884" cy="327" r="16"/><text class="l" x="1884" y="327" font-size="44">you, jh</text></g>
<g id="n-hoeschen-t"><circle class="br" cx="1884" cy="526" r="22"/><circle class="br" cx="1939" cy="517" r="20"/><text class="l" x="1881" y="526" font-size="44">hoeschen, t</text></g>
<g id="n-lotfy-a"><circle class="yg" cx="1707" cy="626" r="16"/><text class="l" x="1707" y="626" font-size="43">lotfy, a</text></g>
<g id="n-abou-el-khair-mt"><circle class="yg" cx="1732" cy="687" r="20"/><text class="l" x="1732" y="687" font-size="44">abou el-khair, mt</text></g>
<g id="n-chawla-n"><circle class="bl" cx="1931" cy="766" r="30"/><text class="l" x="1931" y="765" font-size="46">chawla, n</text></g>
<g id="n-borbely-a"><circle class="lp" cx="1379" cy="818" r="30"/><text class="l" x="1379" y="818" font-size="46">borbely, a</text></g>
<g id="n-daoud-a"><circle class="yg" cx="1774" cy="824" r="25"/><text class="f" x="1774" y="821" font-size="45">daoud, a</text></g>
<g id="n-br1892"><circle class="br" cx="1892" cy="857" r="16"/></g>
<g id="n-campbell-j"><circle class="gy" cx="1182" cy="894" r="6"/><text class="l" x="1182" y="894" font-size="37">campbell, j</text></g>

<g id="n-ubaid-f"><circle class="lrd" cx="3805" cy="112" r="30"/><circle class="lrd" cx="3881" cy="171" r="28"/><text class="f" x="3805" y="109" font-size="48">ubaid, f</text></g>
<g id="n-piat-r"><circle class="lrd" cx="3459" cy="237" r="12"/><text class="l" x="3459" y="237" font-size="37">piat, r</text></g>
<g id="n-roy-s"><circle class="lrd" cx="3673" cy="553" r="25"/><text class="m" x="3673" y="553" font-size="46">roy, s</text></g>
<g id="n-rotu"><circle class="lrd" cx="3966" cy="638" r="12"/><text class="l s" x="3868" y="638" font-size="45">rotu</text></g>
<g id="n-badini-c"><circle class="cy" cx="3365" cy="700" r="18"/><circle class="cy" cx="3314" cy="725" r="14"/><text class="l" x="3314" y="717" font-size="45">badini, c</text></g>
<g id="n-vorozhtsov-s"><circle class="cy" cx="3359" cy="769" r="10"/><text class="f" x="3359" y="769" font-size="37">vorozhtsov, s</text></g>
<g id="n-dieringa-h"><circle class="cy" cx="3275" cy="900" r="28"/><text class="l" x="3275" y="900" font-size="44">dieringa, h</text></g>
<g id="n-routara-bc"><circle class="bl" cx="3076" cy="999" r="14"/><text class="l" x="3076" y="999" font-size="44">routara, bc</text></g>
<g id="n-zhang-r"><circle class="cy" cx="3941" cy="1029" r="22"/><text class="l s" x="3847" y="1029" font-size="45">zhang</text></g>
<g id="n-dabade-ua"><circle class="lrd" cx="3360" cy="1100" r="18"/><circle class="lrd" cx="3407" cy="1096" r="18"/><text class="l" x="3362" y="1099" font-size="39">dabade, ua</text></g>
<g id="n-karmakar-sk"><circle class="pu" cx="3616" cy="1110" r="20"/><text class="f" x="3616" y="1110" font-size="43">karmakar, sk</text></g>
<g id="n-nayak-rk"><circle class="bl" cx="3162" cy="1151" r="16"/><text class="l" x="3162" y="1151" font-size="40">nayak, rk</text></g>
<g id="n-sardar-s"><circle class="lav" cx="3637" cy="1169" r="22"/><text class="l" x="3637" y="1169" font-size="44">sardar, s</text></g>
<g id="n-pramanik"><circle class="cy" cx="3914" cy="1160" r="30"/><text class="l s" x="3789" y="1160" font-size="45">pramani</text></g>
<g id="n-das-d"><circle class="lav" cx="3561" cy="1249" r="28"/><text class="l" x="3561" y="1249" font-size="45">das, d</text></g>
<g id="n-lrd3321"><circle class="lrd" cx="3321" cy="1245" r="18"/></g>
<g id="n-basak-ak"><circle class="cy" cx="3854" cy="1272" r="25"/><text class="l" x="3854" y="1272" font-size="43">basak, ak</text></g>
<g id="n-kainer-ku"><circle class="cy" cx="3162" cy="1280" r="18"/><text class="l" x="3158" y="1278" font-size="43">kainer, ku</text></g>
<g id="n-hort-n"><circle class="cy" cx="3404" cy="1327" r="28"/><text class="l" x="3404" y="1327" font-size="44">hort, n</text></g>
<g id="n-kainer-k"><circle class="cy" cx="3637" cy="1379" r="25"/><text class="l" x="3637" y="1379" font-size="43">kainer, k</text></g>
<g id="n-babu-nh"><circle class="br" cx="3103" cy="1412" r="22"/><text class="l" x="3102" y="1412" font-size="44">babu, nh</text></g>
<g id="n-dhindaw-b"><circle class="cy" cx="3792" cy="1481" r="20"/><text class="l" x="3792" y="1481" font-size="44">dhindaw, b</text></g>
<g id="n-tiwari-s"><circle class="lrd" cx="3608" cy="1546" r="14"/><text class="l" x="3608" y="1546" font-size="38">tiwari, s</text></g>
<g id="n-seshan-s"><circle class="lrd" cx="3055" cy="1562" r="25"/><text class="f" x="3044" y="1560" font-size="44">seshan, s</text></g>
<g id="n-dong-y"><circle class="cy" cx="3396" cy="1594" r="25"/><text class="l" x="3396" y="1594" font-size="42">dong, y</text></g>
<g id="n-okamoto-k"><circle class="rd" cx="3126" cy="1616" r="18"/><circle class="lrd" cx="3223" cy="1619" r="16"/><text class="f" x="3140" y="1617" font-size="44">okamoto, k</text></g>
<g id="n-thakur-s"><circle class="cy" cx="3856" cy="1594" r="22"/><text class="l" x="3856" y="1594" font-size="44">thakur, s</text></g>
<g id="n-dixit-ar"><circle class="lrd" cx="3733" cy="1637" r="22"/><text class="f" x="3740" y="1637" font-size="44">dixit, ar</text></g>
<g id="n-sreekumar-vm"><circle class="br" cx="3559" cy="1667" r="24"/><text class="l" x="3559" y="1667" font-size="43">sreekumar, vm</text></g>
<g id="n-raghukandan"><circle class="lrd" cx="3867" cy="1722" r="24"/><text class="l s" x="3702" y="1720" font-size="44">raghukandan</text></g>
<g id="n-chat"><text class="f s" x="3895" y="1770" font-size="42">chat</text></g>
<g id="n-dhindaw-bk"><circle class="br" cx="3481" cy="1769" r="18"/><text class="l" x="3481" y="1769" font-size="44">dhindaw, bk</text></g>
<g id="n-raj-r"><circle class="yg" cx="3040" cy="1842" r="12"/><text class="l" x="3040" y="1842" font-size="40">raj, r</text></g>
<g id="n-singhal-s"><circle class="or" cx="3892" cy="1834" r="12"/><text class="f" x="3876" y="1834" font-size="40">singhal, s</text></g>
<g id="n-srivastava-ak"><circle class="lrd" cx="3815" cy="1883" r="22"/><circle class="or" cx="3918" cy="1865" r="16"/><text class="l" x="3815" y="1883" font-size="43">srivastava, ak</text></g>
<g id="n-chelliah-nm"><circle class="yg" cx="3117" cy="1904" r="14"/><text class="l" x="3117" y="1904" font-size="44">chelliah, nm</text></g>
<g id="n-chaubey-ak"><circle class="lav" cx="3310" cy="2015" r="28"/><circle class="yg" cx="3162" cy="1987" r="18"/><text class="l" x="3310" y="2015" font-size="46">chaubey, ak</text></g>
<g id="n-kumar-j"><circle class="yg" cx="3566" cy="2060" r="16"/><circle class="yg" cx="3466" cy="2082" r="16"/><text class="l" x="3566" y="2060" font-size="43">kumar, j</text></g>
<g id="n-maurya"><circle class="lrd" cx="3922" cy="2067" r="16"/><text class="l s" x="3820" y="2070" font-size="45">maurya,</text></g>
<g id="n-singh-h"><circle class="yg" cx="3139" cy="2152" r="35"/><text class="l" x="3139" y="2152" font-size="49">singh, h</text></g>
<g id="n-bauri-r"><circle class="yg" cx="3285" cy="2180" r="16"/><text class="f" x="3285" y="2180" font-size="44">bauri, r</text></g>
<g id="n-yadav-d"><circle class="yg" cx="3346" cy="2228" r="16"/><text class="f" x="3346" y="2228" font-size="44">yadav, d</text></g>
<g id="n-k-right"><text class="l s" x="3943" y="2159" font-size="50">k</text></g>
<g id="n-das-ak"><circle class="rd" cx="3678" cy="2216" r="18"/><circle class="rd" cx="3776" cy="2213" r="27"/><text class="l" x="3784" y="2212" font-size="45">das, ak</text></g>
<g id="n-ram-gdj"><circle class="yg" cx="3120" cy="2329" r="16"/><text class="l" x="3120" y="2329" font-size="44">ram, gdj</text></g>
<g id="n-stucker-be"><circle class="yg" cx="3081" cy="2404" r="16"/><circle class="yg" cx="3129" cy="2438" r="10"/><text class="l" x="3078" y="2406" font-size="43">stucker, be</text></g>
<g id="n-xavier"><text class="f s" x="3882" y="2416" font-size="42">xavier</text></g>
<g id="n-sharma-vk"><circle class="lrd" cx="3827" cy="2520" r="10"/><text class="l" x="3827" y="2520" font-size="37">sharma, vk</text></g>
<g id="n-sharma-a"><circle class="or" cx="3678" cy="2570" r="27"/><text class="f" x="3700" y="2570" font-size="45">sharma, a</text></g>
<g id="n-kumar-v"><circle class="rd" cx="3821" cy="2593" r="28"/><text class="l" x="3821" y="2593" font-size="46">kumar, v</text></g>
<g id="n-sharma-v"><circle class="rd" cx="3800" cy="2667" r="14"/><text class="l" x="3800" y="2667" font-size="39">sharma, v</text></g>
<g id="n-umasankar"><circle class="rd" cx="3914" cy="2760" r="10"/><text class="l s" x="3796" y="2760" font-size="37">umasankar</text></g>
<g id="n-prashanth-kg"><circle class="lav" cx="3272" cy="2605" r="38"/><text class="l" x="3268" y="2608" font-size="51">prashanth, kg</text></g>
<g id="n-surreddi-kb"><circle class="lav" cx="3352" cy="2669" r="25"/><text class="f" x="3352" y="2669" font-size="46">surreddi, kb</text></g>
<g id="n-eckert-j"><circle class="lav" cx="3118" cy="2715" r="45"/><text class="l" x="3117" y="2716" font-size="54">eckert, j</text></g>
<g id="n-lav3323"><circle class="lav" cx="3323" cy="2808" r="30"/></g>
</g>

<g id="connectors">
<g class="fe" stroke="#ecd4cf">
<path d="M620,345 C480,500 390,700 395,900"/>
<path d="M625,350 C520,520 460,750 480,950"/>
<path d="M628,350 Q600,430 655,478"/>
<path d="M655,530 C560,650 480,800 470,955"/>
<path d="M674,538 C668,700 590,850 480,960"/>
<path d="M430,955 Q580,875 720,932"/>
<path d="M540,1080 C700,1300 830,1600 850,1790"/>
<path d="M530,1090 C680,1300 800,1550 838,1800"/>
<path d="M742,975 C800,1300 880,1600 865,1790"/>
<path d="M420,1170 Q650,1300 800,1550"/>
<path d="M470,1000 Q420,1060 390,1110"/>
<path d="M450,1050 Q300,1090 250,1095"/>
<path d="M340,1180 Q250,1190 175,1195"/>
<path d="M370,1190 Q340,1210 330,1220"/>
<path d="M240,1095 Q280,1150 320,1225"/>
<path d="M883,633 Q870,680 847,717"/>
<path d="M847,717 Q830,780 844,822"/>
<path d="M948,720 Q930,790 922,848"/>
</g>
<g class="fe" stroke="#d3e3f2">
<path d="M97,1530 Q250,1560 387,1585"/>
<path d="M157,1637 Q400,1560 564,1585"/>
<path d="M97,1530 Q120,1600 157,1637"/>
<path d="M217,1725 Q380,1650 550,1762"/>
<path d="M217,1725 Q260,1760 301,1786"/>
<path d="M301,1786 Q330,1870 354,1946"/>
<path d="M68,1700 Q200,1700 301,1786"/>
<path d="M387,1585 Q400,1700 354,1946"/>
<path d="M564,1585 Q600,1700 527,1905"/>
<path d="M68,1900 Q200,1960 354,1946"/>
<path d="M157,1637 Q350,1750 456,1763"/>
<path d="M96,2000 Q250,1960 354,1946"/>
<path d="M2096,438 C2000,500 1900,650 1931,766"/>
<path d="M1931,766 C1990,830 2010,840 2050,850 Q2350,930 2675,909"/>
<path d="M1939,517 Q1900,650 1931,766"/>
<path d="M2062,178 Q2060,140 2020,108"/>
</g>
<g class="fe" stroke="#f6d0cf">
<path d="M1386,255 Q1450,200 1550,207"/>
<path d="M1550,207 Q1650,220 1726,165"/>
<path d="M1530,288 Q1650,270 1726,165"/>
<path d="M1386,255 Q1380,330 1446,356"/>
<path d="M1446,356 Q1500,330 1530,288"/>
<path d="M1550,207 Q1520,250 1530,288"/>
<path d="M3740,2220 C3500,2280 3250,2400 3042,2654 Q2990,2720 2960,2804"/>
<path d="M3776,2213 Q3880,2400 3821,2593"/>
<path d="M3821,2593 Q3700,2700 3650,2804"/>
<path d="M3300,91 Q3560,220 3673,553"/>
<path d="M3102,1455 Q3250,1450 3395,1488"/>
<path d="M3100,1430 Q3080,1700 3042,1900"/>
<path d="M3805,112 Q3850,150 3881,171"/>
<path d="M3867,1722 Q3920,1740 3964,1740"/>
</g>
<g class="fe" stroke="#fde1c8">
<path d="M3678,2570 Q3720,2300 3964,2150"/>
<path d="M3760,2804 Q3790,2400 3964,2230"/>
<path d="M3930,2804 Q3930,2600 3964,2500"/>
<path d="M2707,2626 Q2730,2570 2746,2541"/>
<path d="M2794,2611 Q2770,2580 2746,2541"/>
</g>
<g class="fe" stroke="#f6d6ec">
<path d="M2267,2064 Q2400,1980 2494,1942"/>
<path d="M2303,2219 Q2450,2050 2494,1942"/>
<path d="M2371,2088 Q2330,2150 2303,2219"/>
<path d="M2219,2283 Q2270,2100 2267,2064"/>
<path d="M2000,2100 Q2150,2020 2267,2064"/>
<path d="M2100,2330 Q2300,2100 2494,1942"/>
<path d="M1425,512 Q1320,700 1379,818"/>
<path d="M663,1439 Q640,1650 700,1990"/>
<path d="M547,1461 Q560,1700 620,2000"/>
<path d="M1409,1099 Q1440,1150 1438,1193"/>
<path d="M1700,1440 Q1800,1420 1900,1383"/>
<path d="M1194,1254 Q1260,1300 1280,1333"/>
</g>
<g class="fe" stroke="#d5edd5">
<path d="M1725,2067 Q1600,2300 1693,2496"/>
<path d="M1250,2325 Q1500,2300 1693,2496"/>
<path d="M1622,1351 Q1550,1700 1612,1771"/>
<path d="M1884,1603 Q1800,1650 1777,1686"/>
<path d="M1725,2067 Q1900,2150 2060,2596"/>
<path d="M1305,2237 Q1500,2150 1725,2067"/>
<path d="M1855,2544 Q1800,2500 1693,2496"/>
<path d="M1600,2804 Q1800,2650 1950,2705"/>
</g>
<g class="fe" stroke="#edf1d2">
<path d="M1648,991 Q1720,1150 1913,1227"/>
<path d="M1538,1002 Q1700,1200 1913,1227"/>
<path d="M1040,1270 Q1250,1200 1299,1044"/>
<path d="M924,1269 Q1300,1420 1913,1227"/>
<path d="M1732,687 Q1690,780 1774,824"/>
<path d="M2626,2207 Q2640,2240 2652,2274"/>
<path d="M2652,2274 Q2580,2330 2516,2395"/>
<path d="M2296,2414 Q2260,2330 2219,2283"/>
<path d="M3139,2152 Q3250,2020 3466,2082"/>
<path d="M3139,2152 Q3300,2000 3566,2060"/>
<path d="M3310,2015 Q3400,2020 3566,2060"/>
<path d="M2675,2192 Q2860,2110 3042,2137"/>
<path d="M160,524 Q130,570 154,602"/>
<path d="M788,1166 Q840,1200 924,1269"/>
<path d="M2296,2414 Q2220,2470 2154,2471"/>
</g>
<g class="fe" stroke="#d6eef2">
<path d="M3255,953 Q3260,1250 3404,1327 Q3530,1400 3637,1379"/>
<path d="M3914,1160 Q3880,1080 3941,1029"/>
<path d="M3914,1160 Q3850,1230 3854,1272"/>
<path d="M3637,1169 Q3590,1220 3561,1249"/>
<path d="M1101,1421 Q1150,1500 1156,1576"/>
<path d="M1208,1455 Q1300,1500 1331,1610"/>
<path d="M2164,1936 Q2300,2300 2591,2520"/>
</g>
<g class="fe" stroke="#e2e8f5">
<path d="M3118,2715 Q3200,2650 3272,2605"/>
<path d="M3118,2715 Q3250,2700 3352,2669"/>
<path d="M3310,2015 Q3330,2300 3272,2605"/>
<path d="M3140,2804 Q3100,2600 3118,2715"/>
</g>
<g class="fe" stroke="#e4dcec">
<path d="M2363,482 Q2300,400 2361,327"/>
<path d="M2209,480 Q2290,450 2363,482"/>
<path d="M2274,386 Q2320,420 2363,482"/>
<path d="M2361,327 Q2400,350 2448,354"/>
<path d="M2300,2532 Q2250,2700 2330,2806"/>
</g>
<g id="hl-edges">
<path class="he er" d="M2140,1101 C2330,1100 2560,1180 2640,1310"/>
<path class="he er" d="M2429,1300 Q2470,1370 2600,1370"/>
<path class="he er" d="M2360,1406 Q2440,1460 2610,1395"/>
<path class="he er" d="M2633,1187 Q2610,1250 2628,1300"/>
<path class="he er" d="M2690,1300 Q2740,1220 2804,1190"/>
<path class="he er" d="M2705,1312 Q2765,1240 2806,1196"/>
<path class="he er" d="M2718,1322 Q2790,1262 2810,1202"/>
<path class="he er" d="M2793,1029 Q2805,1100 2800,1170"/>
<path class="he er" d="M2804,1190 Q2860,1160 2930,1166"/>
<path class="he er" d="M2680,1290 C2800,850 3150,400 3800,245"/>
<path class="he er" d="M2690,1296 C2815,868 3160,430 3723,291"/>
<path class="he er" d="M2735,1335 C3100,1230 3650,800 3730,180"/>
<path class="he er" d="M2745,1345 C3150,1250 3620,850 3750,450"/>
<path class="he er" d="M2720,1400 Q2950,1530 3200,1508"/>
<path class="he er" d="M2725,1408 C2900,1540 3150,1565 3395,1490"/>
<path class="he er" d="M2705,1425 Q2715,1465 2741,1486"/>
<path class="he er" d="M2555,1382 L2600,1375"/>
<path class="he" stroke="url(#gNai)" stroke-width="10" d="M2610,1430 C2300,1850 1800,2250 1176,2368 C800,2440 500,2400 264,2388"/>
<path class="he" stroke="url(#gPu)" stroke-width="9" d="M184,2456 C400,2150 700,1850 1100,1620 C1500,1400 2100,1330 2600,1360"/>
<path class="he" stroke="url(#gPu)" stroke-width="9" d="M257,2730 C480,2300 770,2030 1100,1790 C1420,1480 2050,1360 2600,1372"/>
<path class="he" stroke="url(#gBl)" stroke-width="9" d="M1987,1734 C2040,1600 2150,1460 2360,1406"/>
</g>
</g>

<g id="nodes-highlighted">
<g id="n-ganesh-v"><circle class="hr" cx="2140" cy="1101" r="25"/><text class="h" x="2140" y="1099" font-size="45">ganesh, v</text></g>
<g id="n-thakur-sk"><circle class="hr" cx="2793" cy="1029" r="20"/><text class="h" x="2794" y="1030" font-size="40">thakur, sk</text></g>
<g id="n-paramsothy-m"><circle class="hr" cx="2633" cy="1187" r="25"/><text class="f" x="2630" y="1187" font-size="45">paramsothy, m</text></g>
<g id="n-nguyen-qb"><circle class="hr" cx="2930" cy="1166" r="25"/><text class="f" x="2930" y="1166" font-size="44">nguyen, qb</text></g>
<g id="n-tun-ks"><circle class="hr" cx="2804" cy="1190" r="28"/><text class="h" x="2807" y="1190" font-size="44">tun, ks</text></g>
<g id="n-srikanth-n"><circle class="hr" cx="2429" cy="1300" r="30"/><text class="d" x="2429" y="1302" font-size="46">srikanth, n</text></g>
<g id="n-r2555"><circle class="hr" cx="2555" cy="1382" r="25"/></g>
<g id="n-gupta-m"><circle class="hr" cx="2662" cy="1365" r="77"/><text class="h" x="2662" y="1365" font-size="70">gupta, m</text></g>
<g id="n-wong-wle"><circle class="hr" cx="2360" cy="1406" r="25"/><text class="h" x="2360" y="1406" font-size="44">wong, wle</text></g>
<g id="n-sankaranarayanan-s"><circle class="hr" cx="2741" cy="1486" r="28"/><text class="h" x="2743" y="1485" font-size="45">sankaranarayanan, s</text></g>
<g id="n-jayalakshmi-s"><circle class="hr" cx="3200" cy="1503" r="40"/><text class="h" x="3200" y="1506" font-size="50">jayalakshmi, s</text></g>
<g id="n-singh-ra"><circle class="hr" cx="3395" cy="1488" r="30"/><text class="f" x="3395" y="1488" font-size="45">singh, ra</text></g>
<g id="n-mohamed-ama"><circle class="hr" cx="3730" cy="167" r="32"/><text class="h" x="3729" y="167" font-size="50">mohamed, ama</text></g>
<g id="n-manakari-v"><circle class="hr" cx="3723" cy="291" r="30"/><text class="f" x="3723" y="291" font-size="46">manakari, v</text></g>
<g id="n-shakoor-ra"><circle class="hr" cx="3815" cy="240" r="37"/><text class="h" x="3815" y="240" font-size="50">shakoor, ra</text></g>
<g id="n-parande-g"><circle class="hr" cx="3750" cy="447" r="30"/><text class="h" x="3750" y="446" font-size="45">parande, g</text></g>
<g id="n-lim-s"><circle class="hb" cx="1987" cy="1734" r="25"/><text class="h" x="1988" y="1730" font-size="44">lim, s</text></g>
<g id="n-nai-sml"><circle class="hp" cx="264" cy="2388" r="22"/><text class="h" x="263" y="2388" font-size="43">nai, sml</text></g>
<g id="n-goh-cs"><circle class="hp" cx="184" cy="2456" r="20"/><text class="h" x="184" y="2456" font-size="43">goh, cs</text></g>
<g id="n-wei-j"><circle class="hp" cx="257" cy="2730" r="42"/><text class="h" x="256" y="2730" font-size="50">wei, j</text></g>
</g>
</g>
</svg>
